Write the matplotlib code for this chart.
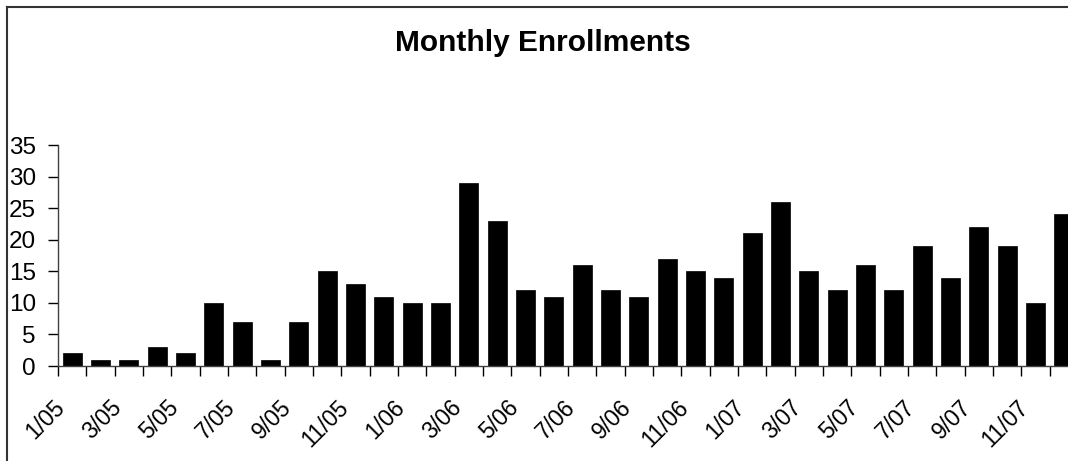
import numpy as np
import matplotlib.pyplot as plt
from matplotlib.lines import Line2D
from matplotlib.transforms import ScaledTranslation, blended_transform_factory

plt.rcParams['font.family'] = ['Liberation Sans', 'DejaVu Sans']

months = ['1/05', '2/05', '3/05', '4/05', '5/05', '6/05', '7/05', '8/05', '9/05', '10/05', '11/05', '12/05',
          '1/06', '2/06', '3/06', '4/06', '5/06', '6/06', '7/06', '8/06', '9/06', '10/06', '11/06', '12/06',
          '1/07', '2/07', '3/07', '4/07', '5/07', '6/07', '7/07', '8/07', '9/07', '10/07', '11/07', '12/07']
enrollments = [2, 1, 1, 3, 2, 10, 7, 1, 7, 15, 13, 11,
               10, 10, 29, 23, 12, 11, 16, 12, 11, 17, 15, 14,
               21, 26, 15, 12, 16, 12, 19, 14, 22, 19, 10, 24]

fig = plt.figure(figsize=(10.68, 4.61), dpi=100)
ax = fig.add_axes([58 / 1068, 95 / 461, 1020 / 1068, 221 / 461])

x = np.arange(len(months))
ax.bar(x, enrollments, width=0.667, color='black', edgecolor='black', linewidth=0.5)

ax.set_xlim(-0.5, len(months) - 0.5)
ax.set_ylim(0, 35)
ax.set_yticks(range(0, 36, 5))

# tick marks between categories
ax.set_xticks(np.arange(len(months)) - 0.5)
ax.set_xticklabels([])
ax.tick_params(axis='x', direction='out', length=7, width=1)
ax.tick_params(axis='y', direction='out', length=7, width=1, labelsize=17.5, pad=9)

# labels on every other month, rotated like Excel
trans = blended_transform_factory(ax.transData, ax.transAxes) + \
    ScaledTranslation(-19 / 100, -30 / 100, fig.dpi_scale_trans)
for i in x[::2]:
    ax.text(i, 0, months[i], transform=trans, rotation=45, ha='right', va='top',
            rotation_mode='anchor', fontsize=16.5, clip_on=False)

for s in ['top', 'right']:
    ax.spines[s].set_visible(False)
for s in ['left', 'bottom']:
    ax.spines[s].set_color('#404040')
    ax.spines[s].set_linewidth(1)

fig.text(543 / 1068, 1 - 43 / 461, 'Monthly Enrollments', ha='center', va='center',
         fontsize=21.5, fontweight='bold')

# outer chart border (left and top visible)
fig.add_artist(Line2D([7 / 1068, 7 / 1068], [0, 1 - 7 / 461], color='#333333', linewidth=1.5))
fig.add_artist(Line2D([7 / 1068, 1], [1 - 7 / 461, 1 - 7 / 461], color='#333333', linewidth=1.5))

fig.savefig('out.png', dpi=100)
